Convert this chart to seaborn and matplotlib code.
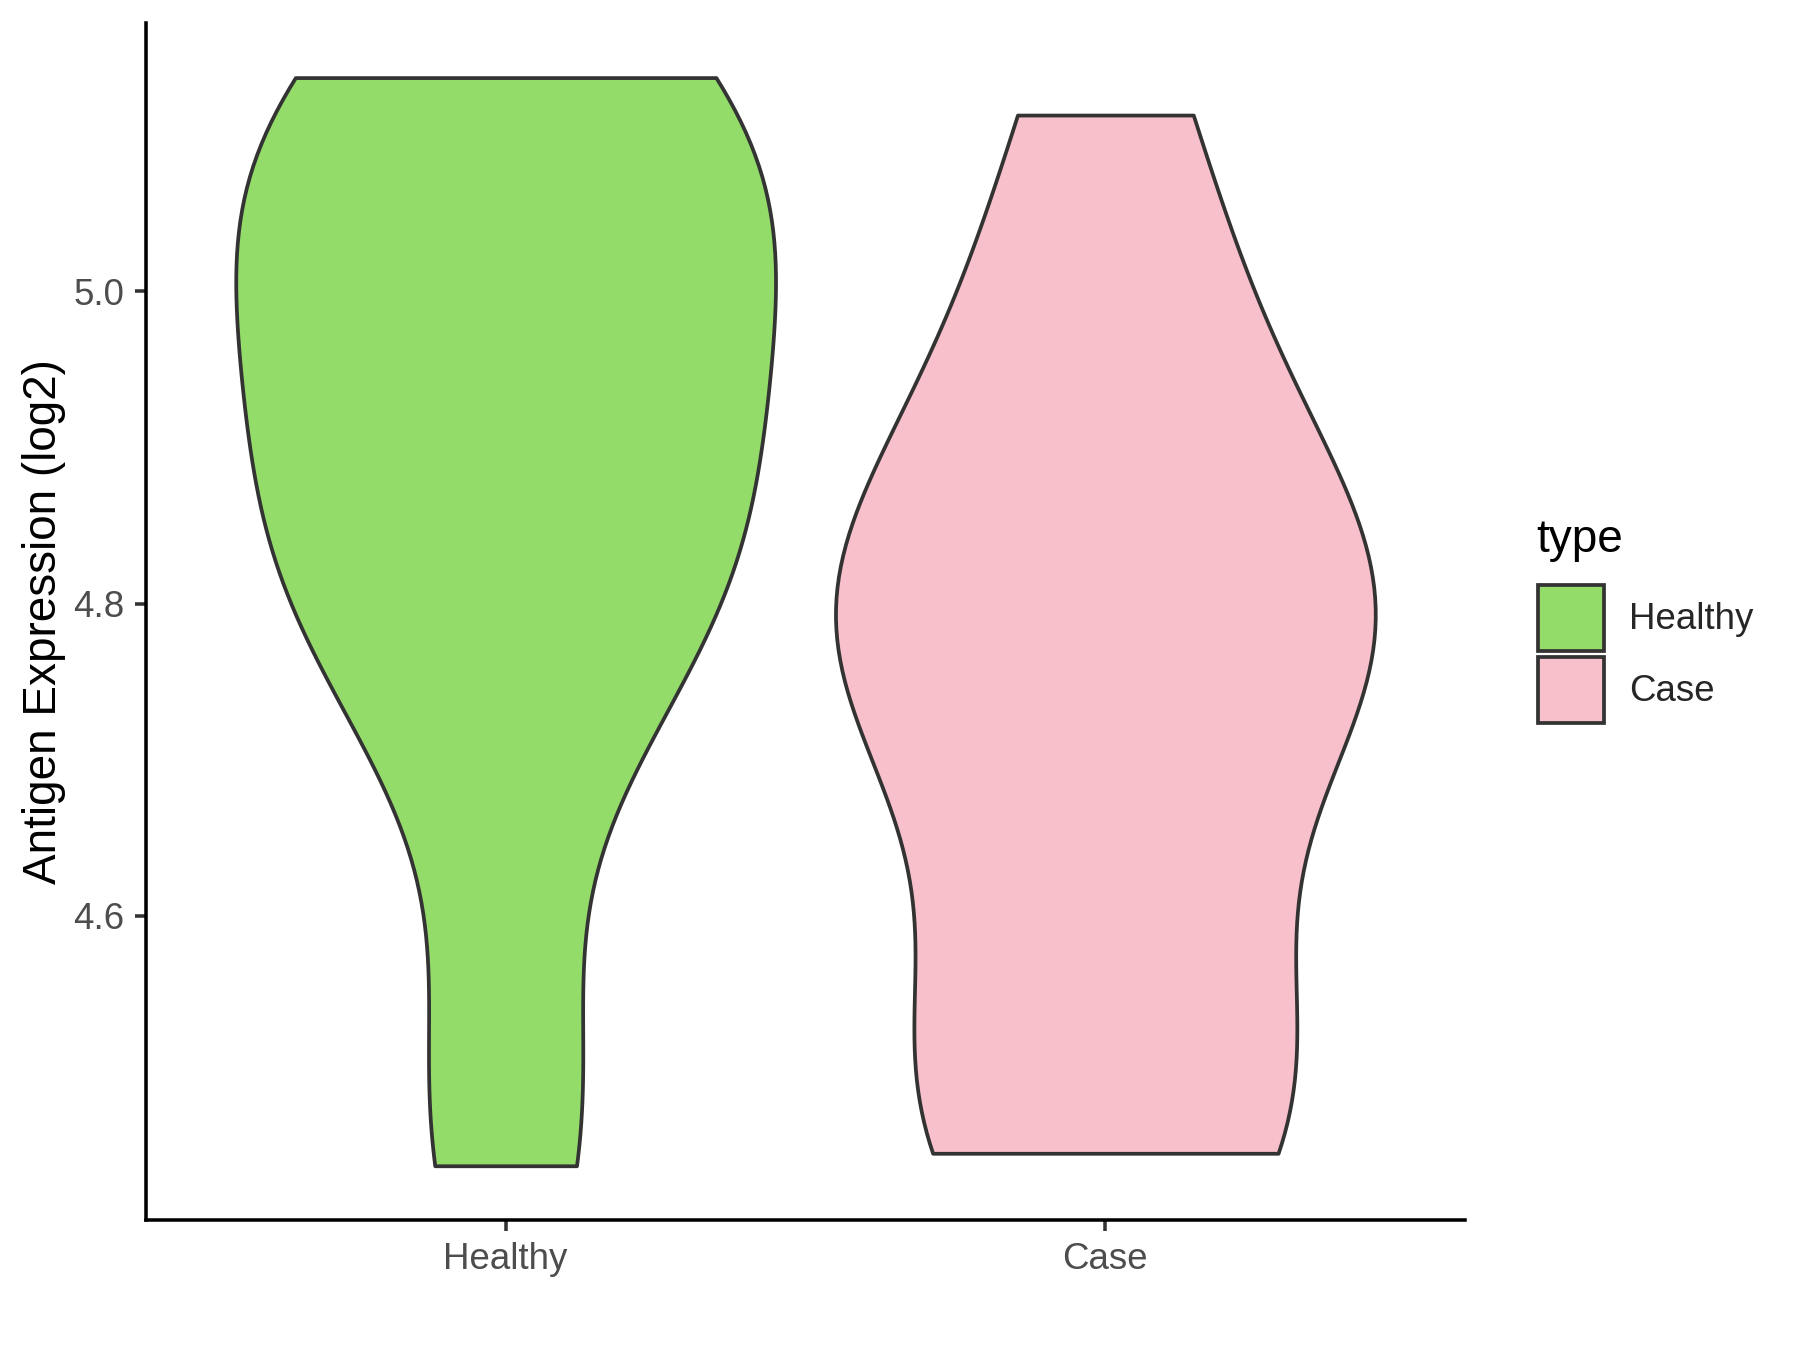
import numpy as np
import pandas as pd
import matplotlib
matplotlib.use("Agg")
import matplotlib.pyplot as plt
import seaborn as sns
from matplotlib.patches import Patch

# data
groups = ["Healthy", "Case"]
healthy_vals = [4.44, 4.50, 4.72, 4.79, 4.81, 4.83, 4.87, 4.92, 4.97, 5.01, 5.05, 5.08, 5.11, 5.13, 5.137]
case_vals = [4.448, 4.455, 4.50, 4.54, 4.74, 4.76, 4.78, 4.79, 4.81, 4.915, 4.99, 5.113]
colors = {"Healthy": "#94DC6A", "Case": "#F8C0CB"}
y_ticks = [4.6, 4.8, 5.0]

df = pd.DataFrame({
    "type": ["Healthy"] * len(healthy_vals) + ["Case"] * len(case_vals),
    "value": healthy_vals + case_vals,
})
df["type"] = pd.Categorical(df["type"], categories=groups)

sns.set_style("ticks")
plt.rcParams["font.family"] = ["Liberation Sans", "DejaVu Sans"]

fig = plt.figure(figsize=(6, 4.5), dpi=300)
ax = fig.add_axes([0.081, 0.096, 0.733, 0.887])

sns.violinplot(data=df, x="type", y="value", hue="type", palette=colors,
               order=groups, hue_order=groups, dodge=False, cut=0,
               density_norm="width", width=0.9, inner=None, bw_adjust=0.9,
               saturation=1, linewidth=0.9, linecolor="#333333", legend=False, ax=ax)

ax.set_xlim(-0.6, 1.6)
ax.set_ylim(4.405, 5.172)
ax.set_yticks(y_ticks)
ax.set_yticklabels([f"{t:.1f}" for t in y_ticks])
ax.set_xlabel("")
ax.set_ylabel("Antigen Expression (log2)", fontsize=11, color="black", labelpad=1.5)
ax.tick_params(axis="both", labelsize=8.8, labelcolor="#4D4D4D", color="#333333",
               length=2.75, width=0.85, direction="out", pad=2.5,
               bottom=True, left=True)
sns.despine(ax=ax)
for side in ["left", "bottom"]:
    ax.spines[side].set_color("black")
    ax.spines[side].set_linewidth(0.85)

# legend, ggplot-like: title above, square keys
fig.text(0.8533, 0.60, "type", fontsize=11, color="black", va="center", ha="left")
handles = [Patch(facecolor=colors[g], edgecolor="#333333", linewidth=0.9, label=g)
           for g in groups]
fig.legend(handles=handles, loc="upper left", bbox_to_anchor=(0.8544, 0.567),
           frameon=False, fontsize=8.8, handlelength=1.8, handleheight=2.4,
           labelspacing=0.16, handletextpad=0.68, borderpad=0, borderaxespad=0)

fig.savefig("out.png", dpi=300)
